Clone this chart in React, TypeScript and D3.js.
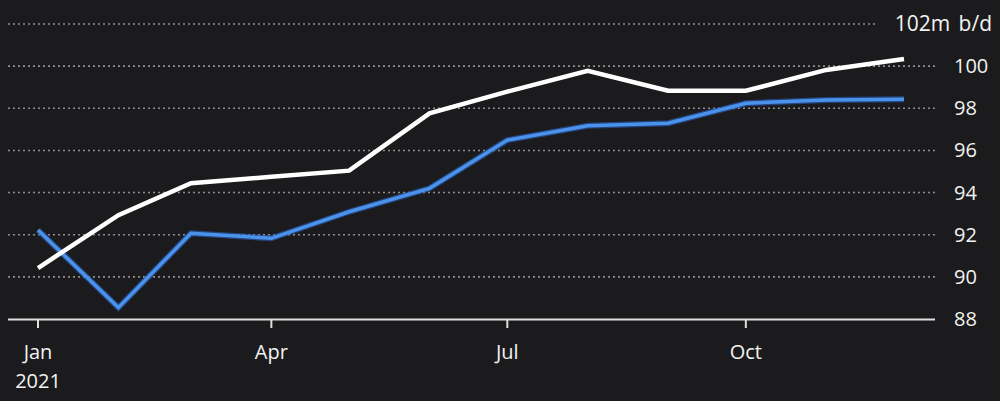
import React from "react";
import * as d3 from "d3";

const months = ["2021-01-01","2021-02-01","2021-03-01","2021-04-01","2021-05-01","2021-06-01","2021-07-01","2021-08-01","2021-09-01","2021-10-01","2021-11-01","2021-12-01"];
const whiteSeries = [90.42, 92.93, 94.44, 94.75, 95.04, 97.76, 98.79, 99.78, 98.83, 98.83, 99.82, 100.34];
const blueSeries = [92.22, 88.54, 92.07, 91.83, 93.09, 94.2, 96.49, 97.17, 97.29, 98.24, 98.39, 98.43];
const yTicks = [88, 90, 92, 94, 96, 98, 100, 102];
const xTickDates = ["2021-01-01", "2021-04-01", "2021-07-01", "2021-10-01"];
const xTickLabels = ["Jan", "Apr", "Jul", "Oct"];

const W = 1000, H = 401;
const FONT = "'Open Sans', 'Noto Sans', sans-serif";

export default function App() {
  const parse = d3.utcParse("%Y-%m-%d");
  const dates = months.map((m) => parse(m) as Date);
  const x = d3.scaleUtc().domain([parse("2021-01-01") as Date, parse("2021-12-01") as Date]).range([38, 904]);
  const y = d3.scaleLinear().domain([88, 102]).range([319, 24]);
  const line = d3.line<number>().x((_, i) => x(dates[i])).y((d) => y(d));

  return (
    <svg width={W} height={H} style={{ position: "absolute", left: 0, top: 0, background: "#1b1b1d" }}>
      <rect x={0} y={0} width={W} height={H} fill="#1b1b1d" />
      {yTicks.filter((t) => t !== 88).map((t) => (
        <line key={t} x1={8} x2={t === 102 ? 878 : 938} y1={y(t)} y2={y(t)} stroke="#8e8e8e" strokeWidth={1.6} strokeDasharray="2,3" />
      ))}
      {yTicks.map((t) =>
        t === 102 ? (
          <text key={t} x={992} y={y(t) + 7} fill="#f2f2f2" fontSize={21} fontFamily={FONT} textAnchor="end" wordSpacing={3}>102m b/d</text>
        ) : (
          <text key={t} x={954} y={y(t) + 7} fill="#f2f2f2" fontSize={20} fontFamily={FONT}>{t}</text>
        )
      )}
      <path d={line(blueSeries) || ""} fill="none" stroke="#2b63c4" strokeWidth={6} strokeLinejoin="miter" opacity={0.6} />
      <path d={line(blueSeries) || ""} fill="none" stroke="#4a92ea" strokeWidth={3.5} strokeLinejoin="miter" />
      <path d={line(whiteSeries) || ""} fill="none" stroke="#ffffff" strokeWidth={4.5} strokeLinejoin="miter" />
      <line x1={8} x2={935} y1={319.5} y2={319.5} stroke="#e0e0e0" strokeWidth={2} />
      {xTickDates.map((d, i) => {
        const xx = x(parse(d) as Date);
        return (
          <g key={d}>
            <line x1={xx} x2={xx} y1={319.5} y2={328} stroke="#e0e0e0" strokeWidth={2} />
            <text x={xx} y={359} fill="#f2f2f2" fontSize={20} fontFamily={FONT} textAnchor="middle">{xTickLabels[i]}</text>
          </g>
        );
      })}
      <text x={x(parse("2021-01-01") as Date)} y={388} fill="#f2f2f2" fontSize={20} fontFamily={FONT} textAnchor="middle">2021</text>
    </svg>
  );
}
